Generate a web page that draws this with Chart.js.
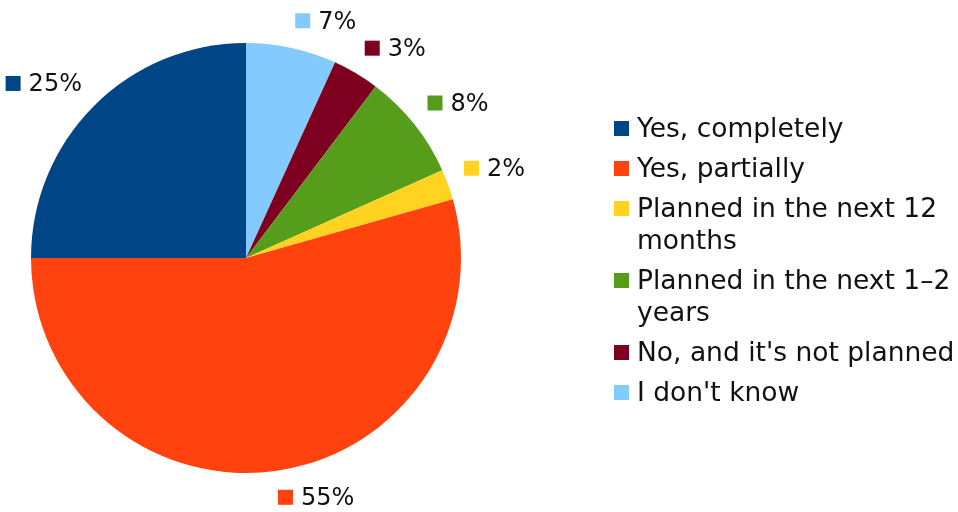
<!DOCTYPE html>
<html>
<head>
<meta charset="utf-8">
<script src="https://cdn.jsdelivr.net/npm/chart.js@4/dist/chart.umd.min.js"></script>
<style>
html, body { margin: 0; padding: 0; background: #fff; }
</style>
</head>
<body>
<canvas id="myChart" width="958" height="512"></canvas>
<script>
const categories = ['Yes, completely', 'Yes, partially', 'Planned in the next 12 months', 'Planned in the next 1–2 years', "No, and it's not planned", "I don't know"]
const shares = [25, 54.4, 2.3, 8.0, 3.5, 6.8]
const shownPct = [25, 55, 2, 8, 3, 7]
const colours = ['#004586', '#ff420e', '#ffd320', '#579d1c', '#7e0021', '#83caff']

const LABEL_FONT = '24px "DejaVu Sans"'
const LEGEND_FONT = '26.5px "DejaVu Sans"'
const TEXT = '#111'

// the original runs counter-clockwise from 12 o'clock, Chart.js goes clockwise,
// so feed the slices in reverse order
const order = categories.map((c, i) => i).reverse()

const sliceLabels = {
    id: 'sliceLabels',
    afterDatasetsDraw(chart) {
        const c = chart.ctx
        const arcs = chart.getDatasetMeta(0).data
        c.save()
        c.font = LABEL_FONT
        c.textBaseline = 'middle'
        arcs.forEach((arc, k) => {
            const i = order[k]
            const p = arc.getProps(['x', 'y', 'startAngle', 'endAngle', 'outerRadius'])
            const mid = (p.startAngle + p.endAngle) / 2
            const dx = Math.cos(mid), dy = Math.sin(mid)
            const txt = shownPct[i] + '%'
            const bw = 15 + 8 + c.measureText(txt).width
            const bh = 20
            // anchor just outside the rim, box hangs away from the pie
            const ax = p.x + dx * (p.outerRadius + 17)
            const ay = p.y + dy * (p.outerRadius + 17)
            let left = ax - bw / 2
            if (dx > 0.05) left = ax
            else if (dx < -0.05) left = ax - bw
            let top = ay - bh / 2
            if (dy > 0.1) top = ay
            else if (dy < -0.1) top = ay - bh
            const cy = top + bh / 2
            c.fillStyle = colours[i]
            c.fillRect(left, cy - 8, 15, 15)
            c.fillStyle = TEXT
            c.fillText(txt, left + 23, cy + 1)
        })
        c.restore()
    }
}

const sideLegend = {
    id: 'sideLegend',
    afterDraw(chart) {
        const c = chart.ctx
        c.save()
        c.font = LEGEND_FONT
        c.textBaseline = 'middle'
        const maxW = c.measureText("No, and it's not planned").width + 2
        let y = 129
        categories.forEach((cat, i) => {
            // wrap words
            const words = cat.split(' ')
            const lines = []
            let line = ''
            words.forEach(w => {
                const test = line ? line + ' ' + w : w
                if (c.measureText(test).width > maxW && line) {
                    lines.push(line)
                    line = w
                } else {
                    line = test
                }
            })
            lines.push(line)
            c.fillStyle = colours[i]
            c.fillRect(614, y - 8, 15, 15)
            c.fillStyle = TEXT
            lines.forEach((l, j) => {
                c.fillText(l, 637, y + 1 + j * 32)
            })
            y += 40 + (lines.length - 1) * 32
        })
        c.restore()
    }
}

new Chart(document.getElementById('myChart'), {
    type: 'pie',
    data: {
        labels: order.map(i => categories[i]),
        datasets: [{
            data: order.map(i => shares[i]),
            backgroundColor: order.map(i => colours[i]),
            borderWidth: 0,
            hoverOffset: 0,
            offset: 0
        }]
    },
    options: {
        responsive: false,
        animation: false,
        layout: {
            padding: { left: 31, top: 43, right: 497, bottom: 39 }
        },
        plugins: {
            legend: { display: false },
            tooltip: { enabled: false }
        }
    },
    plugins: [sliceLabels, sideLegend]
});
</script>
</body>
</html>
